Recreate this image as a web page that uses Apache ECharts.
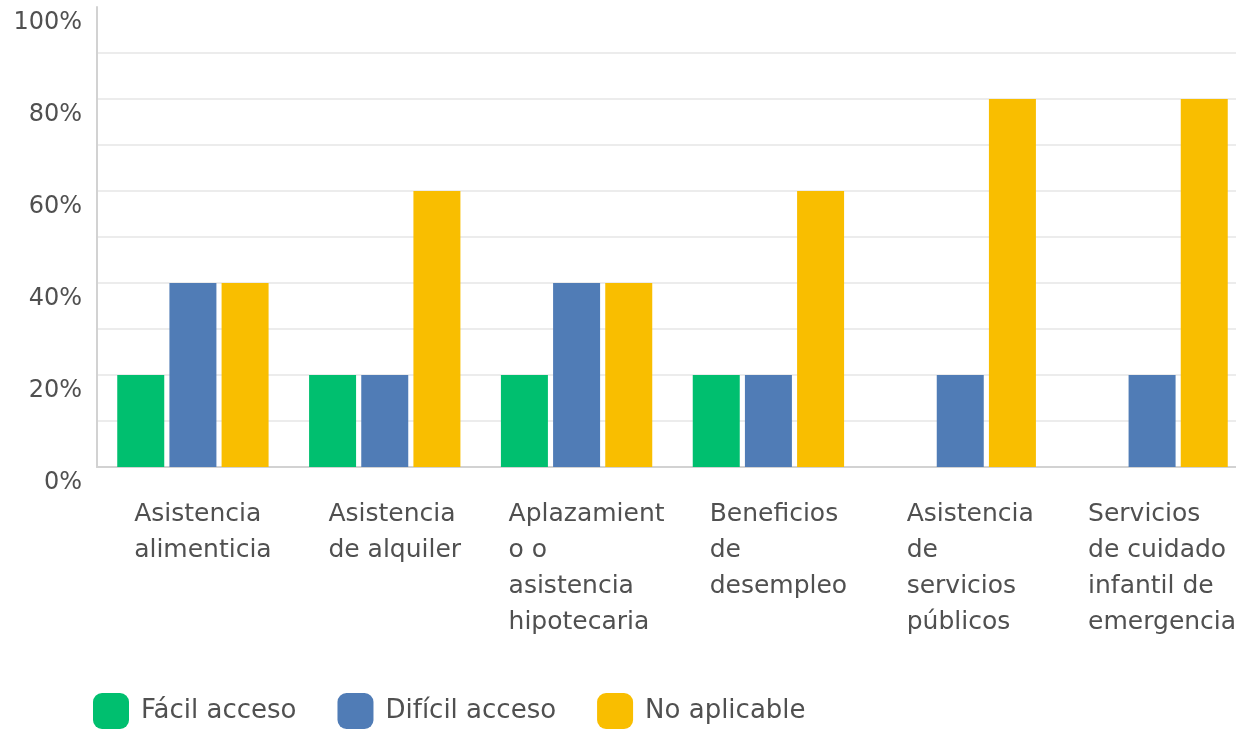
<!DOCTYPE html>
<html>
<head>
<meta charset="utf-8">
<script src="https://cdn.jsdelivr.net/npm/echarts@6/dist/echarts.min.js"></script>
<style>
html,body{margin:0;padding:0;background:#fff;overflow:hidden;width:1236px;height:730px;}
#chart{width:1248px;height:730px;}
</style>
</head>
<body>
<div id="chart"></div>
<script>
const categories = [
  "Asistencia\nalimenticia",
  "Asistencia\nde alquiler",
  "Aplazamient\no o\nasistencia\nhipotecaria",
  "Beneficios\nde\ndesempleo",
  "Asistencia\nde\nservicios\npúblicos",
  "Servicios\nde cuidado\ninfantil de\nemergencia"
];
const seriesNames = ["Fácil acceso", "Difícil acceso", "No aplicable"];
const facilAcceso = [20, 20, 20, 20, 0, 0];
const dificilAcceso = [40, 20, 40, 20, 20, 20];
const noAplicable = [40, 60, 40, 60, 80, 80];
const colors = ["#00BF6F", "#507CB6", "#F9BE00"];

const FONT = "DejaVu Sans";
const chart = echarts.init(document.getElementById('chart'), null, {renderer: 'canvas'});

function bar(name, data, color) {
  return {
    name: name, type: 'bar', data: data,
    barWidth: 47, barGap: '11%',
    itemStyle: {color: color},
    emphasis: {disabled: true}
  };
}

chart.setOption({
  animation: false,
  textStyle: {fontFamily: FONT},
  grid: {left: 97, right: 0, top: 7, bottom: 263, containLabel: false},
  legend: {
    left: 93, top: 693, padding: 0,
    itemWidth: 36, itemHeight: 36, itemGap: 41,
    icon: 'roundRect',
    formatter: function (name) {
      return '{t|' + name + '}' + (name === seriesNames[1] ? '{g|}' : '');
    },
    textStyle: {
      fontFamily: FONT, fontSize: 26, color: '#505050', padding: [0, 0, 0, 7],
      rich: {
        t: {fontFamily: FONT, fontSize: 26, color: '#505050'},
        g: {width: 10}
      }
    },
    data: seriesNames
  },
  xAxis: {
    type: 'category',
    data: categories,
    axisTick: {show: false},
    axisLine: {show: true, lineStyle: {color: '#d2d2d2', width: 2}},
    axisLabel: {
      interval: 0,
      margin: 29,
      verticalAlign: 'top',
      align: 'center',
      padding: [0, 0, 0, 20],
      formatter: function (v) {
        return v.split('\n').map(function (s) { return '{l|' + s + '}'; }).join('\n');
      },
      rich: {
        l: {fontFamily: FONT, fontSize: 25, lineHeight: 36, color: '#505050', align: 'left'}
      }
    }
  },
  yAxis: {
    type: 'value',
    min: 0, max: 100, interval: 20,
    axisLine: {show: true, lineStyle: {color: '#d2d2d2', width: 2}},
    axisTick: {show: false},
    axisLabel: {
      formatter: '{value}%',
      fontFamily: FONT, fontSize: 24, color: '#505050',
      margin: 15, verticalAlign: 'top', lineHeight: 24, padding: [4, 0, 0, 0]
    },
    splitLine: {show: true, lineStyle: {color: ['#ececec', '#ececec', '#ececec', '#ececec', '#ececec', 'rgba(0,0,0,0)'], width: 2}},
    minorTick: {show: false, splitNumber: 2},
    minorSplitLine: {show: true, lineStyle: {color: '#ececec', width: 2}}
  },
  series: [
    bar(seriesNames[0], facilAcceso, colors[0]),
    bar(seriesNames[1], dificilAcceso, colors[1]),
    bar(seriesNames[2], noAplicable, colors[2])
  ]
});
</script>
</body>
</html>
